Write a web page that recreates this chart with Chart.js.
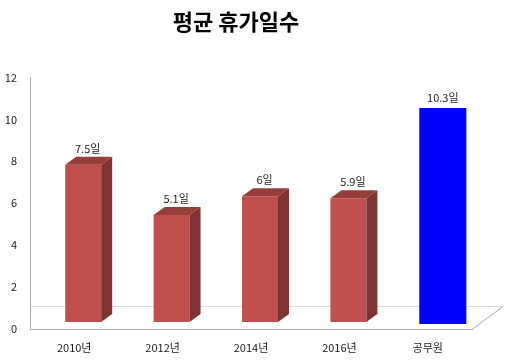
<!DOCTYPE html>
<html>
<head>
<meta charset="utf-8">
<script src="https://cdn.jsdelivr.net/npm/chart.js@4/dist/chart.umd.min.js"></script>
<style>
html,body{margin:0;padding:0;background:#fff;}
#wrap{width:510px;height:360px;}
</style>
</head>
<body>
<div id="wrap"><canvas id="c" width="510" height="360"></canvas></div>
<script>
const titleText = '평균 휴가일수';
const categories = ['2010년', '2012년', '2014년', '2016년', '공무원'];
const privateValues = [7.5, 5.1, 6, 5.9, null];
const publicValues = [null, null, null, null, 10.3];
const valueLabels = ['7.5일', '5.1일', '6일', '5.9일', '10.3일'];
const yTicks = [0, 2, 4, 6, 8, 10, 12];

const FONT = '"Noto Sans CJK KR", "Noto Sans", sans-serif';
const RED_SHIFT = {x: 9, y: -7};
const BLUE_SHIFT = {x: 15, y: -5};
const DEPTH = {x: 11, y: 8};

function shiftFor(i) { return i === 0 ? RED_SHIFT : BLUE_SHIFT; }

const bar3d = {
  id: 'bar3d',
  beforeDatasetsDraw(chart) {
    const {ctx, chartArea: a} = chart;
    ctx.save();
    ctx.lineWidth = 1;
    ctx.strokeStyle = '#dcdcdc';
    ctx.beginPath();
    ctx.moveTo(a.left + 1, a.bottom - 22.5);
    ctx.lineTo(a.right + 31, a.bottom - 22.5);
    ctx.stroke();
    ctx.strokeStyle = '#a6a6a6';
    ctx.beginPath();
    ctx.moveTo(a.right + 31, a.bottom - 22.5);
    ctx.lineTo(a.right, a.bottom + 0.5);
    ctx.stroke();
    ctx.restore();
  },
  beforeDatasetDraw(chart, args) {
    const s = shiftFor(args.index);
    chart.ctx.save();
    chart.ctx.translate(s.x, s.y);
  },
  afterDatasetDraw(chart, args) {
    const ctx = chart.ctx;
    if (args.index === 0) {
      const meta = chart.getDatasetMeta(0);
      meta.data.forEach((b, i) => {
        if (privateValues[i] == null) return;
        const p = b.getProps(['x', 'y', 'base', 'width'], true);
        const l = p.x - p.width / 2, r = p.x + p.width / 2, t = p.y, bt = p.base;
        ctx.fillStyle = '#7e3432';
        ctx.beginPath();
        ctx.moveTo(r, t);
        ctx.lineTo(r + DEPTH.x, t - DEPTH.y);
        ctx.lineTo(r + DEPTH.x, bt - DEPTH.y);
        ctx.lineTo(r, bt);
        ctx.closePath();
        ctx.fill();
        ctx.fillStyle = '#973d3a';
        ctx.beginPath();
        ctx.moveTo(l, t);
        ctx.lineTo(l + DEPTH.x, t - DEPTH.y);
        ctx.lineTo(r + DEPTH.x, t - DEPTH.y);
        ctx.lineTo(r, t);
        ctx.closePath();
        ctx.fill();
      });
    }
    ctx.restore();
  },
  afterDatasetsDraw(chart) {
    const ctx = chart.ctx;
    ctx.save();
    ctx.fillStyle = '#1a1a1a';
    ctx.textAlign = 'center';
    ctx.textBaseline = 'middle';
    ctx.font = '11px ' + FONT;
    [0, 1].forEach(di => {
      const meta = chart.getDatasetMeta(di);
      const s = shiftFor(di);
      meta.data.forEach((b, i) => {
        const v = di === 0 ? privateValues[i] : publicValues[i];
        if (v == null) return;
        const p = b.getProps(['x', 'y'], true);
        if (di === 0) {
          ctx.fillText(valueLabels[i], p.x + s.x + DEPTH.x / 2 - 1, p.y + s.y - DEPTH.y - 8);
        } else {
          ctx.fillText(valueLabels[i], p.x + s.x, p.y + s.y - 10);
        }
      });
    });
    ctx.restore();
  }
};

new Chart(document.getElementById('c'), {
  type: 'bar',
  data: {
    labels: categories,
    datasets: [
      {
        label: titleText,
        data: privateValues,
        backgroundColor: '#c0504d',
        borderWidth: 0,
        grouped: false,
        barPercentage: 1,
        categoryPercentage: 0.407,
        clip: false
      },
      {
        label: titleText,
        data: publicValues,
        backgroundColor: '#0000ff',
        borderWidth: 0,
        grouped: false,
        barPercentage: 1,
        categoryPercentage: 0.532,
        clip: false
      }
    ]
  },
  options: {
    responsive: false,
    animation: false,
    devicePixelRatio: 1,
    layout: {padding: {left: 0, right: 38, top: 0, bottom: 6}},
    plugins: {
      legend: {display: false},
      tooltip: {enabled: false},
      title: {
        display: true,
        text: titleText,
        color: '#000',
        font: {family: FONT, size: 22, weight: 'bold'},
        padding: {top: 8, bottom: 43}
      }
    },
    scales: {
      x: {
        afterFit(scale) { scale.height = 25; },
        grid: {display: false, drawTicks: false},
        border: {display: true, color: '#a6a6a6'},
        ticks: {color: '#1a1a1a', font: {family: FONT, size: 11}, padding: 12}
      },
      y: {
        min: 0, max: 12,
        afterFit(scale) { scale.width = 30; },
        afterBuildTicks(scale) { scale.ticks = yTicks.map(v => ({value: v})); },
        grid: {display: false, drawTicks: false},
        border: {display: true, color: '#a6a6a6'},
        ticks: {color: '#1a1a1a', font: {family: FONT, size: 11}, padding: 13}
      }
    }
  },
  plugins: [bar3d]
});
</script>
</body>
</html>
